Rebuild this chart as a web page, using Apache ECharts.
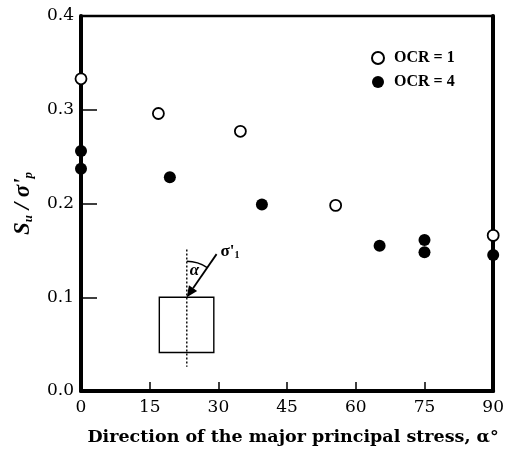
<!DOCTYPE html>
<html>
<head>
<meta charset="utf-8">
<script src="https://cdn.jsdelivr.net/npm/echarts@6/dist/echarts.min.js"></script>
<style>
  html, body { margin: 0; padding: 0; background: #fff; }
  #chart { width: 507px; height: 452px; }
</style>
</head>
<body>
<div id="chart"></div>
<script>
// Undrained strength ratio vs. direction of the major principal stress
const alphaOCR1 = [0, 16.9, 34.8, 55.6, 90];
const ratioOCR1 = [0.333, 0.296, 0.277, 0.198, 0.166];

const alphaOCR4 = [0, 0, 19.4, 39.5, 65.2, 75, 75, 90];
const ratioOCR4 = [0.256, 0.237, 0.228, 0.199, 0.155, 0.161, 0.148, 0.145];

const xTicks = [0, 15, 30, 45, 60, 75, 90];
const yTicks = [0.0, 0.1, 0.2, 0.3, 0.4];

const seriesNames = ['OCR = 1', 'OCR = 4'];

const FONT = "'DejaVu Serif', 'Liberation Serif', serif";
const FONT_T = "'Liberation Serif', 'DejaVu Serif', serif";

const pairs = (xs, ys) => xs.map((x, i) => [x, ys[i]]);

const chart = echarts.init(document.getElementById('chart'), null, { renderer: 'canvas' });

const option = {
  backgroundColor: '#ffffff',
  animation: false,
  grid: {
    left: 81, right: 10, top: 16, bottom: 61,
    show: true, borderColor: '#000', borderWidth: 2.5, backgroundColor: 'transparent'
  },
  legend: {
    data: seriesNames,
    left: 366, top: 45,
    orient: 'vertical',
    itemGap: 8,
    itemWidth: 12, itemHeight: 12,
    textStyle: { fontFamily: FONT_T, fontSize: 16, fontWeight: 'bold', color: '#000', lineHeight: 14, padding: [0, 0, 0, 5] }
  },
  xAxis: [{
    type: 'value', min: 0, max: 90, interval: 15,
    name: 'Direction of the major principal stress, α°',
    nameLocation: 'middle', nameGap: 37,
    nameTextStyle: { fontFamily: FONT, fontSize: 17.5, fontWeight: 'bold', color: '#000', padding: [0, 0, 0, 12] },
    axisLine: { show: true, onZero: false, lineStyle: { color: '#000', width: 4 } },
    axisTick: { show: true, inside: true, length: 9, lineStyle: { color: '#000', width: 1.5 } },
    axisLabel: {
      margin: 8, fontFamily: FONT, fontSize: 17, color: '#000',
      formatter: v => String(v)
    },
    splitLine: { show: false }
  }],
  yAxis: [{
    type: 'value', min: 0, max: 0.4, interval: 0.1,
    name: '{s|S}{sub|u}{n| / σ\'}{sub|p}',
    nameLocation: 'middle', nameGap: 46, nameRotate: 90,
    nameTextStyle: {
      rich: {
        s: { fontFamily: FONT_T, fontSize: 23, fontStyle: 'italic', fontWeight: 'bold', color: '#000' },
        n: { fontFamily: FONT_T, fontSize: 23, fontStyle: 'italic', fontWeight: 'bold', color: '#000' },
        sub: { fontFamily: FONT_T, fontSize: 13, fontStyle: 'italic', fontWeight: 'bold', color: '#000', verticalAlign: 'bottom', padding: [9, 0, 0, 0] }
      }
    },
    axisLine: { show: true, onZero: false, lineStyle: { color: '#000', width: 4 } },
    axisTick: { show: true, inside: true, length: 16, lineStyle: { color: '#000', width: 1.5 } },
    axisLabel: {
      margin: 7, fontFamily: FONT, fontSize: 17, color: '#000',
      formatter: v => v.toFixed(1)
    },
    splitLine: { show: false }
  }, {
    type: 'value', min: 0, max: 0.4, position: 'right',
    axisLine: { show: true, onZero: false, lineStyle: { color: '#000', width: 4 } },
    axisTick: { show: false }, axisLabel: { show: false }, splitLine: { show: false }
  }],
  series: [{
    name: seriesNames[0],
    type: 'scatter',
    data: pairs(alphaOCR1, ratioOCR1),
    symbol: 'circle', symbolSize: 11,
    itemStyle: { color: '#fff', borderColor: '#000', borderWidth: 1.8, opacity: 1 },
    z: 5
  }, {
    name: seriesNames[1],
    type: 'scatter',
    data: pairs(alphaOCR4, ratioOCR4),
    symbol: 'circle', symbolSize: 12,
    itemStyle: { color: '#000', borderColor: '#000', borderWidth: 0, opacity: 1 },
    z: 5
  }]
};

chart.setOption(option);

// Inset sketch: soil element with the major principal stress at angle α from vertical
const px = p => chart.convertToPixel({ gridIndex: 0 }, p);
const boxTL = px([17.1, 0.1]);
const boxBR = px([29.0, 0.041]);
const vTop = px([23.1, 0.151]);
const vBot = px([23.1, 0.026]);
const tip = [vTop[0], boxTL[1]];
const tail = px([29.6, 0.146]);

const dx = tail[0] - tip[0], dy = tail[1] - tip[1];
const len = Math.hypot(dx, dy);
const ux = dx / len, uy = dy / len;
const headL = 11, headW = 5;
const headBase = [tip[0] + ux * headL, tip[1] + uy * headL];
const headPts = [
  tip,
  [headBase[0] - uy * headW, headBase[1] + ux * headW],
  [headBase[0] + uy * headW, headBase[1] - ux * headW]
];
const arcR = 36;
const arrowAng = Math.atan2(dy, dx);

chart.setOption({
  graphic: [
    { type: 'rect', shape: { x: boxTL[0], y: boxTL[1], width: boxBR[0] - boxTL[0], height: boxBR[1] - boxTL[1] },
      style: { fill: 'none', stroke: '#000', lineWidth: 1.4 }, z: 10 },
    { type: 'line', shape: { x1: vTop[0], y1: vTop[1], x2: vBot[0], y2: vBot[1] },
      style: { stroke: '#000', lineWidth: 1.4, lineDash: [2, 2] }, z: 10 },
    { type: 'line', shape: { x1: tail[0], y1: tail[1], x2: headBase[0], y2: headBase[1] },
      style: { stroke: '#000', lineWidth: 1.8 }, z: 10 },
    { type: 'polygon', shape: { points: headPts }, style: { fill: '#000' }, z: 10 },
    { type: 'arc', shape: { cx: tip[0], cy: tip[1], r: arcR, startAngle: -Math.PI / 2, endAngle: arrowAng, clockwise: true },
      style: { fill: 'none', stroke: '#000', lineWidth: 1.4 }, z: 10 },
    { type: 'text', x: tip[0] + 3, y: tip[1] - 35,
      style: { text: 'α', fontFamily: FONT_T, fontSize: 17, fontStyle: 'italic', fontWeight: 'bold', fill: '#000' }, z: 10 },
    { type: 'text', x: tail[0] + 4, y: tail[1] - 11,
      style: { text: '{a|σ\'}{b|1}',
        rich: {
          a: { fontFamily: FONT_T, fontSize: 17, fontWeight: 'bold', fill: '#000' },
          b: { fontFamily: FONT_T, fontSize: 10, fontWeight: 'bold', fill: '#000', verticalAlign: 'bottom', padding: [7, 0, 0, 0] }
        }
      }, z: 10 }
  ]
});
</script>
</body>
</html>
